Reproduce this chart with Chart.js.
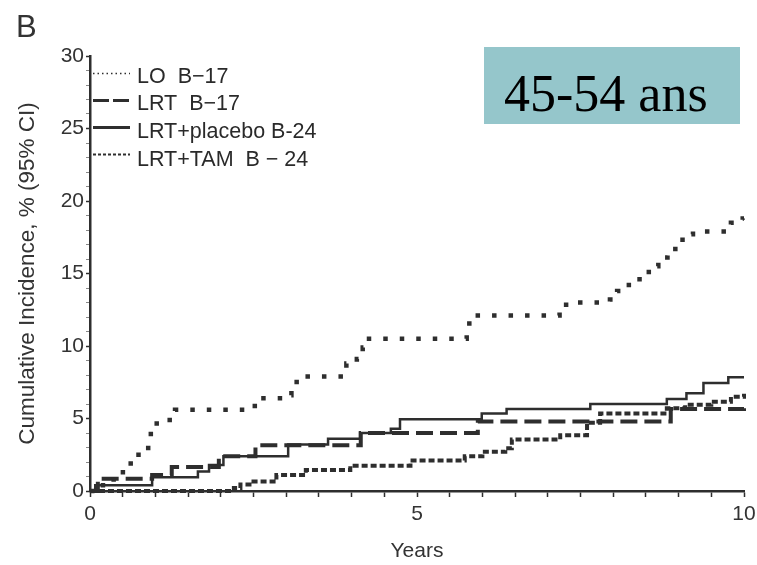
<!DOCTYPE html>
<html>
<head>
<meta charset="utf-8">
<script src="https://cdn.jsdelivr.net/npm/chart.js@4/dist/chart.umd.min.js"></script>
<style>
  html, body { margin: 0; padding: 0; background: #fff; }
  #wrap { width: 757px; height: 565px; position: relative; }
</style>
</head>
<body>
<div id="wrap"><canvas id="chart"></canvas></div>
<script>
// step points: year of the event, cumulative incidence (%) after it
const loYears = [0, 0.15, 0.3, 0.45, 0.56, 0.66, 0.89, 0.93, 1.02, 1.3, 2.52, 2.99, 3.08, 3.16, 3.92, 4.08, 4.17, 4.22, 5.76, 5.8, 7.18, 7.28, 7.95, 8.06, 8.19, 8.34, 8.48, 8.65, 8.69, 8.83, 8.95, 9.06, 9.22, 9.8, 9.98, 10]
const loValues = [0, 0.4, 0.8, 1.3, 1.9, 2.5, 3.4, 4.2, 4.9, 5.6, 6.4, 6.6, 7.2, 7.9, 8.8, 9.1, 9.9, 10.5, 11.2, 12.1, 12.4, 13.0, 13.2, 13.8, 14.2, 14.6, 15.1, 15.5, 16.1, 16.5, 17.1, 17.7, 17.9, 18.5, 18.8, 18.8]

const lrtYears = [0, 0.12, 0.95, 1.25, 1.97, 2.53, 4.14, 5.93, 8.88, 10]
const lrtValues = [0, 0.85, 1.1, 1.65, 2.4, 3.15, 4.0, 4.8, 5.65, 5.7]

const placeboYears = [0, 0.08, 0.95, 1.65, 1.82, 2.04, 3.03, 3.64, 4.13, 4.6, 4.74, 5.99, 6.37, 7.65, 8.82, 9.12, 9.38, 9.76, 10]
const placeboValues = [0, 0.4, 0.95, 1.35, 1.8, 2.4, 3.2, 3.6, 4.0, 4.3, 4.95, 5.35, 5.65, 6.0, 6.35, 6.75, 7.45, 7.85, 7.85]

const tamYears = [0, 2.2, 2.3, 2.5, 2.85, 3.3, 3.98, 4.9, 5.73, 6.0, 6.35, 6.45, 7.19, 7.6, 7.8, 8.82, 9.1, 9.5, 9.8, 10]
const tamValues = [0, 0.2, 0.45, 0.65, 1.1, 1.45, 1.75, 2.1, 2.4, 2.7, 2.95, 3.55, 3.85, 4.7, 5.35, 5.7, 5.95, 6.15, 6.5, 6.7]

const seriesLabels = ['LO  B\u221217', 'LRT  B\u221217', 'LRT+placebo B-24', 'LRT+TAM  B \u2212 24']
const badgeText = '45-54 ans'

const ink = '#2e2e2e'
const sans = "'Liberation Sans', Arial, sans-serif"

const pts = (xs, ys) => xs.map((x, i) => ({ x, y: ys[i] }))

const styles = [
  { borderWidth: 4.5, borderDash: [4.5, 12] },
  { borderWidth: 4, borderDash: [17, 7] },
  { borderWidth: 2.5, borderDash: [] },
  { borderWidth: 4, borderDash: [6, 3] }
]

const data = {
  datasets: [
    pts(loYears, loValues),
    pts(lrtYears, lrtValues),
    pts(placeboYears, placeboValues),
    pts(tamYears, tamValues)
  ].map((d, i) => ({
    label: seriesLabels[i],
    data: d,
    stepped: 'before',
    borderColor: ink,
    borderCapStyle: 'butt',
    pointRadius: 0,
    fill: false,
    clip: 6,
    ...styles[i]
  }))
}

// legend samples are thinner than the plotted curves
const legendStyles = [
  { w: 1.5, dash: [1.5, 3] },
  { w: 3, dash: [16, 4] },
  { w: 3, dash: [] },
  { w: 2, dash: [3, 2] }
]

const decor = {
  id: 'decor',
  afterDraw (chart) {
    const ctx = chart.ctx
    ctx.save()

    // panel letter
    ctx.fillStyle = '#333'
    ctx.font = '31px ' + sans
    ctx.textBaseline = 'alphabetic'
    ctx.textAlign = 'left'
    ctx.fillText('B', 16, 37)

    // legend
    ctx.font = '21.5px ' + sans
    seriesLabels.forEach((txt, i) => {
      const ly = 73.5 + i * 27
      const s = legendStyles[i]
      ctx.strokeStyle = ink
      ctx.lineWidth = s.w
      ctx.setLineDash(s.dash)
      ctx.beginPath()
      ctx.moveTo(93, ly)
      ctx.lineTo(130, ly)
      ctx.stroke()
      ctx.setLineDash([])
      ctx.fillStyle = '#2a2a2a'
      ctx.fillText(txt, 137, 82.5 + i * 27.8)
    })

    // age band badge
    ctx.fillStyle = '#95c6cb'
    ctx.fillRect(484, 47, 256, 77)
    ctx.fillStyle = '#000'
    ctx.font = "52px 'Liberation Serif', 'Times New Roman', serif"
    ctx.fillText(badgeText, 504, 111)

    ctx.restore()
  }
}

const tickGrid = {
  display: true,
  drawOnChartArea: false,
  drawTicks: true,
  tickColor: ink,
  tickWidth: 1.5
}

const config = {
  type: 'line',
  data,
  options: {
    responsive: true,
    maintainAspectRatio: false,
    animation: false,
    layout: { padding: { top: 56, right: 13, left: 0, bottom: 0 } },
    plugins: {
      legend: { display: false },
      tooltip: { enabled: false }
    },
    scales: {
      x: {
        type: 'linear',
        min: 0,
        max: 10,
        afterFit: s => {
          s.height = 74
          s.paddingLeft = 0
          s.paddingRight = 0
        },
        border: { display: true, color: ink, width: 2.5 },
        grid: { ...tickGrid, tickLength: 6 },
        ticks: {
          stepSize: 0.5,
          autoSkip: false,
          maxRotation: 0,
          padding: 5,
          color: '#333',
          font: { family: sans, size: 21 },
          callback: v => (v % 5 === 0 ? v : '')
        },
        title: {
          display: true,
          text: 'Years',
          color: '#333',
          font: { family: sans, size: 21 },
          padding: { top: 0, bottom: 1 }
        }
      },
      y: {
        type: 'linear',
        min: 0,
        max: 30,
        afterFit: s => { s.width = 90 },
        border: { display: true, color: ink, width: 2.5 },
        grid: {
          ...tickGrid,
          tickLength: 4,
          tickColor: c => (c.tick && c.tick.value % 5 === 0 ? ink : '#888'),
          tickWidth: c => (c.tick && c.tick.value % 5 === 0 ? 1.5 : 1)
        },
        ticks: {
          stepSize: 1,
          autoSkip: false,
          padding: 2,
          color: '#333',
          font: { family: sans, size: 21 },
          callback: v => (v % 5 === 0 ? v : '')
        },
        title: {
          display: true,
          text: 'Cumulative Incidence, % (95% CI)',
          color: '#333',
          font: { family: sans, size: 22.5 },
          padding: { top: 14, bottom: 0 }
        }
      }
    }
  },
  plugins: [decor]
}

new Chart(document.getElementById('chart'), config)
</script>
</body>
</html>
